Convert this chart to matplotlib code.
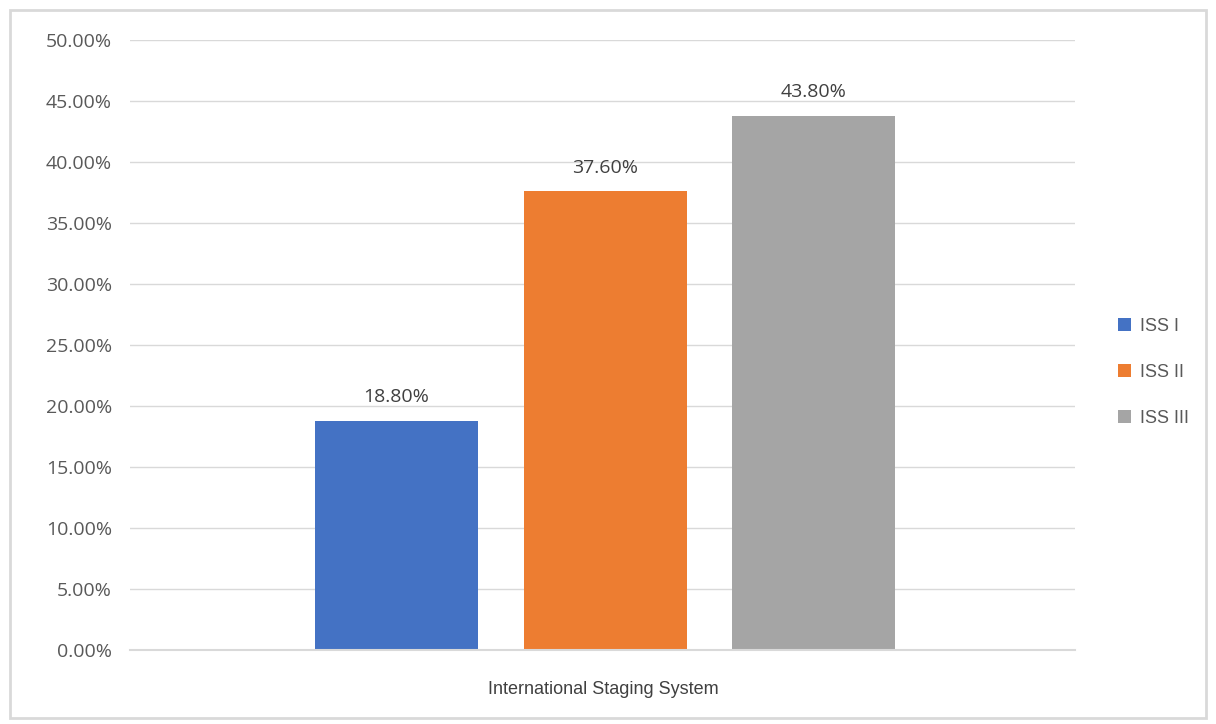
import matplotlib.pyplot as plt
import numpy as np
from matplotlib.patches import Rectangle

plt.rcParams['font.family'] = ['Liberation Sans', 'DejaVu Sans']

# stage shares (%)
stages = ['ISS I', 'ISS II', 'ISS III']
values = [18.8, 37.6, 43.8]
colors = ['#4472c4', '#ed7d31', '#a5a5a5']
category = 'International Staging System'

fig = plt.figure(figsize=(12.16, 7.24), dpi=100)
ax = fig.add_axes([0.107, 0.102, 0.777, 0.843])

offsets = [-0.218, 0.003, 0.223]
bw = 0.1725
handles = []
for name, v, c, off in zip(stages, values, colors, offsets):
    b = ax.bar(off, v, width=bw, color=c, label=name, zorder=3)
    handles.append(b)
    ax.text(off, v + 1.2, '%.2f%%' % v, ha='center', va='bottom',
            fontsize=14, color='#404040', family=['Open Sans', 'DejaVu Sans'])

ax.set_xlim(-0.5, 0.5)
ax.set_ylim(0, 50)
ticks = np.arange(0, 50.1, 5)
ax.set_yticks(ticks)
ax.set_yticklabels(['%.2f%%' % t for t in ticks], family=['Open Sans', 'DejaVu Sans'])
ax.tick_params(axis='y', length=0, labelsize=14, labelcolor='#595959', pad=13)
ax.set_xticks([])
ax.grid(axis='y', color='#d9d9d9', linewidth=1, zorder=0)
ax.axhline(0, color='#d9d9d9', linewidth=1.5, zorder=4, clip_on=False)
for s in ax.spines.values():
    s.set_visible(False)

fig.text(0.496, 0.047, category, ha='center', va='center',
         fontsize=13, color='#404040')

fig.legend(handles=handles, labels=stages, loc='center left',
           bbox_to_anchor=(0.906, 0.486), frameon=False, fontsize=13,
           labelcolor='#595959', handlelength=0.7, handleheight=0.7,
           handletextpad=0.5, labelspacing=1.6)

# chart border
fig.patches.append(Rectangle((0.008, 0.008), 0.984, 0.978, transform=fig.transFigure,
                             fill=False, edgecolor='#d9d9d9', linewidth=2))

fig.savefig('out.png', dpi=100)
